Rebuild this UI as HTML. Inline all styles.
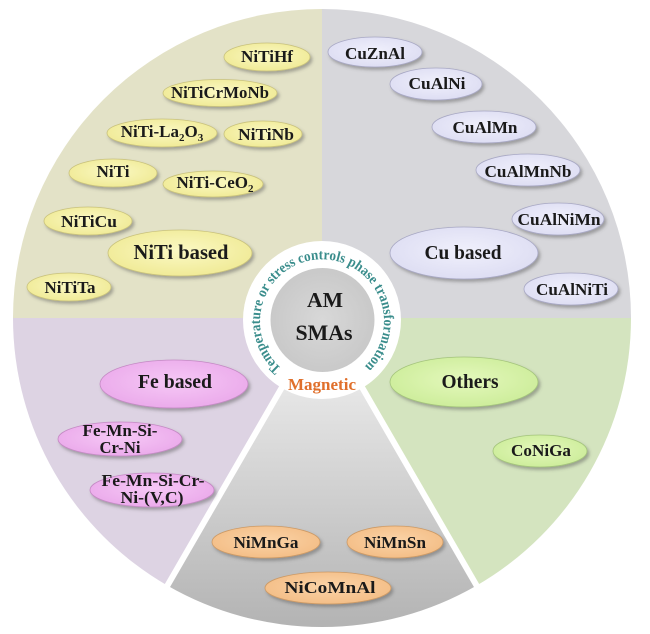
<!DOCTYPE html>
<html><head><meta charset="utf-8"><style>
html,body{margin:0;padding:0;background:#fff;}
svg{display:block;}
text{font-family:"Liberation Serif",serif;font-weight:bold;}
</style></head><body>
<svg width="650" height="634" viewBox="0 0 650 634" xmlns="http://www.w3.org/2000/svg">
<defs>
<filter id="sh" x="-20%" y="-30%" width="150%" height="170%">
<feDropShadow dx="2" dy="2.5" stdDeviation="1.6" flood-color="#555" flood-opacity="0.45"/>
</filter>
<linearGradient id="mag" x1="0" y1="390" x2="0" y2="628" gradientUnits="userSpaceOnUse">
<stop offset="0" stop-color="#e6e6e6"/><stop offset="1" stop-color="#b3b3b3"/>
</linearGradient>
<radialGradient id="yel" cx="0.5" cy="0.45" r="0.6"><stop offset="0" stop-color="#fbf9c4"/><stop offset="1" stop-color="#efe993"/></radialGradient>
<radialGradient id="blu" cx="0.5" cy="0.45" r="0.6"><stop offset="0" stop-color="#f0f0fc"/><stop offset="1" stop-color="#dcdcf2"/></radialGradient>
<radialGradient id="pnk" cx="0.5" cy="0.45" r="0.6"><stop offset="0" stop-color="#f6c8f6"/><stop offset="1" stop-color="#eaa8ea"/></radialGradient>
<radialGradient id="grn" cx="0.5" cy="0.45" r="0.6"><stop offset="0" stop-color="#e4f8bc"/><stop offset="1" stop-color="#cbec98"/></radialGradient>
<radialGradient id="org" cx="0.5" cy="0.45" r="0.6"><stop offset="0" stop-color="#fbd4a8"/><stop offset="1" stop-color="#f3bc84"/></radialGradient>
<radialGradient id="core" cx="0.5" cy="0.5" r="0.5"><stop offset="0" stop-color="#d8d8d8"/><stop offset="1" stop-color="#c9c9c9"/></radialGradient>
<path id="ring" d="M281.5,368.3 A62,62 0 1 1 366.5,364.5"/>
</defs>

<!-- pie sectors -->
<path d="M322,318 L13,318 A309,309 0 0 1 322,9 Z" fill="#e3e2c7"/>
<path d="M322,318 L322,9 A309,309 0 0 1 631,318 Z" fill="#d7d7db"/>
<path d="M322,318 L631,318 A309,309 0 0 1 476.5,585.6 Z" fill="#d4e4bf"/>
<path d="M322,318 L476.5,585.6 A309,309 0 0 1 167.5,585.6 Z" fill="url(#mag)"/>
<path d="M322,318 L167.5,585.6 A309,309 0 0 1 13,318 Z" fill="#ddd3e3"/>
<line x1="322" y1="318" x2="478" y2="588" stroke="#fff" stroke-width="6"/>
<line x1="322" y1="318" x2="166" y2="588" stroke="#fff" stroke-width="6"/>

<!-- center -->
<circle cx="322" cy="320" r="79" fill="#fff"/>
<circle cx="322.5" cy="320" r="52" fill="url(#core)"/>
<text font-size="14.5" fill="#3a8d8c"><textPath href="#ring" textLength="298" lengthAdjust="spacingAndGlyphs">Temperature or stress controls phase transformation</textPath></text>
<text x="325" y="307" font-size="21" text-anchor="middle" fill="#1a1a1a" textLength="36" lengthAdjust="spacingAndGlyphs">AM</text>
<text x="324" y="340" font-size="22" text-anchor="middle" fill="#1a1a1a" textLength="57" lengthAdjust="spacingAndGlyphs">SMAs</text>
<text x="322" y="390" font-size="17" text-anchor="middle" fill="#e0702c" textLength="68" lengthAdjust="spacingAndGlyphs">Magnetic</text>

<!-- NiTi group -->
<g filter="url(#sh)" fill="url(#yel)" stroke="#c9c27c" stroke-width="0.8">
<ellipse cx="267" cy="57" rx="43" ry="14"/>
<ellipse cx="220" cy="93" rx="57" ry="13.5"/>
<ellipse cx="162" cy="133" rx="55" ry="14"/>
<ellipse cx="263" cy="134" rx="39" ry="13"/>
<ellipse cx="113" cy="173" rx="44" ry="14"/>
<ellipse cx="213" cy="184" rx="50" ry="13"/>
<ellipse cx="88" cy="221" rx="44" ry="14"/>
<ellipse cx="180" cy="253" rx="72" ry="23"/>
<ellipse cx="69" cy="287" rx="42" ry="14"/>
</g>
<g fill="#1a1a1a" text-anchor="middle" font-size="17">
<text x="267" y="62" textLength="52" lengthAdjust="spacingAndGlyphs">NiTiHf</text>
<text x="220" y="98" textLength="98" lengthAdjust="spacingAndGlyphs">NiTiCrMoNb</text>
<text x="162" y="137">NiTi-La<tspan font-size="11" dy="4">2</tspan><tspan dy="-4">O</tspan><tspan font-size="11" dy="4">3</tspan></text>
<text x="266" y="140" textLength="56" lengthAdjust="spacingAndGlyphs">NiTiNb</text>
<text x="113" y="177" textLength="33" lengthAdjust="spacingAndGlyphs">NiTi</text>
<text x="215" y="188">NiTi-CeO<tspan font-size="11" dy="4">2</tspan></text>
<text x="89" y="227" textLength="56" lengthAdjust="spacingAndGlyphs">NiTiCu</text>
<text x="181" y="259" font-size="21" textLength="95" lengthAdjust="spacingAndGlyphs">NiTi based</text>
<text x="70" y="293" textLength="51" lengthAdjust="spacingAndGlyphs">NiTiTa</text>
</g>

<!-- Cu group -->
<g filter="url(#sh)" fill="url(#blu)" stroke="#a8a8c4" stroke-width="0.8">
<ellipse cx="375" cy="52" rx="47" ry="15"/>
<ellipse cx="436" cy="84" rx="46" ry="16"/>
<ellipse cx="484" cy="127" rx="52" ry="16"/>
<ellipse cx="528" cy="170" rx="52" ry="16"/>
<ellipse cx="558" cy="219" rx="46" ry="16"/>
<ellipse cx="464" cy="253" rx="74" ry="26"/>
<ellipse cx="571" cy="289" rx="47" ry="16"/>
</g>
<g fill="#1a1a1a" text-anchor="middle" font-size="17">
<text x="375" y="59" textLength="60" lengthAdjust="spacingAndGlyphs">CuZnAl</text>
<text x="437" y="89" textLength="57" lengthAdjust="spacingAndGlyphs">CuAlNi</text>
<text x="485" y="133" textLength="65" lengthAdjust="spacingAndGlyphs">CuAlMn</text>
<text x="528" y="177" textLength="87" lengthAdjust="spacingAndGlyphs">CuAlMnNb</text>
<text x="559" y="225" textLength="83" lengthAdjust="spacingAndGlyphs">CuAlNiMn</text>
<text x="463" y="259" font-size="20" textLength="77" lengthAdjust="spacingAndGlyphs">Cu based</text>
<text x="572" y="295" textLength="72" lengthAdjust="spacingAndGlyphs">CuAlNiTi</text>
</g>

<!-- Fe group -->
<g filter="url(#sh)" fill="url(#pnk)" stroke="#c48ac4" stroke-width="0.8">
<ellipse cx="174" cy="384" rx="74" ry="24"/>
<ellipse cx="120" cy="439" rx="62" ry="17"/>
<ellipse cx="152" cy="490" rx="62" ry="17"/>
</g>
<g fill="#1a1a1a" text-anchor="middle" font-size="17">
<text x="175" y="388" font-size="20" textLength="74" lengthAdjust="spacingAndGlyphs">Fe based</text>
<text x="120" y="436" textLength="75" lengthAdjust="spacingAndGlyphs">Fe-Mn-Si-</text>
<text x="120" y="453" textLength="41" lengthAdjust="spacingAndGlyphs">Cr-Ni</text>
<text x="153" y="486" textLength="103" lengthAdjust="spacingAndGlyphs">Fe-Mn-Si-Cr-</text>
<text x="152" y="503" textLength="63" lengthAdjust="spacingAndGlyphs">Ni-(V,C)</text>
</g>

<!-- Others group -->
<g filter="url(#sh)" fill="url(#grn)" stroke="#a4c47c" stroke-width="0.8">
<ellipse cx="464" cy="382" rx="74" ry="25"/>
<ellipse cx="540" cy="451" rx="47" ry="16"/>
</g>
<g fill="#1a1a1a" text-anchor="middle" font-size="17">
<text x="470" y="388" font-size="20" textLength="57" lengthAdjust="spacingAndGlyphs">Others</text>
<text x="541" y="456" textLength="60" lengthAdjust="spacingAndGlyphs">CoNiGa</text>
</g>

<!-- Magnetic group -->
<g filter="url(#sh)" fill="url(#org)" stroke="#cc9a66" stroke-width="0.8">
<ellipse cx="266" cy="542" rx="54" ry="16"/>
<ellipse cx="395" cy="542" rx="48" ry="16"/>
<ellipse cx="328" cy="588" rx="63" ry="16"/>
</g>
<g fill="#1a1a1a" text-anchor="middle" font-size="17">
<text x="266" y="548" textLength="65" lengthAdjust="spacingAndGlyphs">NiMnGa</text>
<text x="395" y="548" textLength="62" lengthAdjust="spacingAndGlyphs">NiMnSn</text>
<text x="330" y="593" textLength="91" lengthAdjust="spacingAndGlyphs">NiCoMnAl</text>
</g>
</svg>
</body></html>
